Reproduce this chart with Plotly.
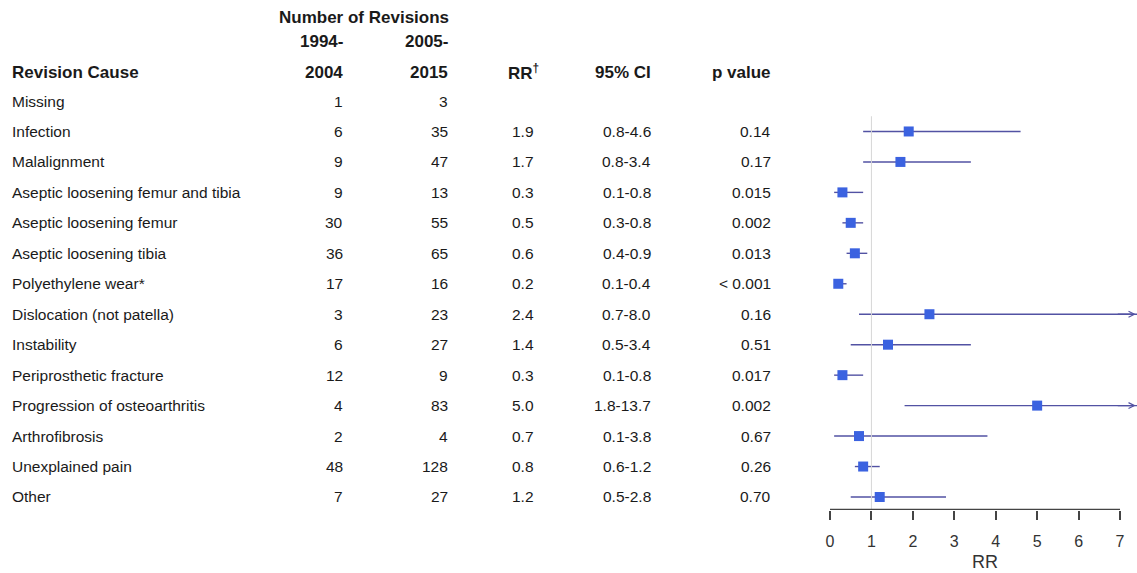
import plotly.graph_objects as go

causes = ["Missing", "Infection", "Malalignment", "Aseptic loosening femur and tibia",
          "Aseptic loosening femur", "Aseptic loosening tibia", "Polyethylene wear*",
          "Dislocation (not patella)", "Instability", "Periprosthetic fracture",
          "Progression of osteoarthritis", "Arthrofibrosis", "Unexplained pain", "Other"]
n_1994_2004 = [1, 6, 9, 9, 30, 36, 17, 3, 6, 12, 4, 2, 48, 7]
n_2005_2015 = [3, 35, 47, 13, 55, 65, 16, 23, 27, 9, 83, 4, 128, 27]
rr = [None, 1.9, 1.7, 0.3, 0.5, 0.6, 0.2, 2.4, 1.4, 0.3, 5.0, 0.7, 0.8, 1.2]
ci_lo = [None, 0.8, 0.8, 0.1, 0.3, 0.4, 0.1, 0.7, 0.5, 0.1, 1.8, 0.1, 0.6, 0.5]
ci_hi = [None, 4.6, 3.4, 0.8, 0.8, 0.9, 0.4, 8.0, 3.4, 0.8, 13.7, 3.8, 1.2, 2.8]
p_values = ["", "0.14", "0.17", "0.015", "0.002", "0.013", "< 0.001", "0.16", "0.51",
            "0.017", "0.002", "0.67", "0.26", "0.70"]
x_ticks = [0, 1, 2, 3, 4, 5, 6, 7]

W, H = 1137, 573
FONT = "Liberation Sans, Arial, sans-serif"
TXT = "#1a1a1a"
LINE_C = "#5252a3"
MARK_C = "#3b62e0"

rows = list(range(len(causes)))
XMIN, XMAX = -0.2414, 7.41
YBOT, YTOP = 13.427, -3.316
PLOT_BOTTOM = 510

def px(x):
    return x / W

fig = go.Figure()

idx = [i for i in rows if rr[i] is not None]
fig.add_trace(go.Scatter(
    x=[rr[i] for i in idx], y=idx, mode="markers",
    marker=dict(symbol="square", size=10, color=MARK_C),
    error_x=dict(type="data", symmetric=False,
                 array=[ci_hi[i] - rr[i] for i in idx],
                 arrayminus=[rr[i] - ci_lo[i] for i in idx],
                 color=LINE_C, thickness=1.4, width=0),
    showlegend=False, hoverinfo="skip"))

ann = []
def t(text, x, y, align="left", bold=False, size=15.5):
    ann.append(dict(text=f"<b>{text}</b>" if bold else text, x=px(x), xref="paper",
                    y=y, yref="y", xanchor=align, yanchor="middle", showarrow=False,
                    font=dict(family=FONT, size=size, color=TXT)))

for i in rows:
    t(causes[i], 10, i)
    t(str(n_1994_2004[i]), 345, i, "right")
    t(str(n_2005_2015[i]), 450, i, "right")
    if rr[i] is not None:
        t(f"{rr[i]:.1f}", 536, i, "right")
        t(f"{ci_lo[i]:.1f}-{ci_hi[i]:.1f}", 653, i, "right")
    t(p_values[i], 773, i, "right")

# headers
HS = 17
t("Number of Revisions", 364, -2.73, "center", True, HS)
t("1994-", 345, -1.94, "right", True, HS)
t("2005-", 450, -1.94, "right", True, HS)
t("Revision Cause", 10, -0.95, "left", True, HS)
t("2004", 345, -0.95, "right", True, HS)
t("2015", 450, -0.95, "right", True, HS)
t("RR<sup>†</sup>", 506, -0.95, "left", True, HS)
t("95% CI", 653, -0.95, "right", True, HS)
t("p value", 773, -0.95, "right", True, HS)

# arrows for CIs beyond the axis
for i in idx:
    if ci_hi[i] > XMAX:
        ann.append(dict(x=XMAX - 0.03, y=i, xref="x", yref="y", ax=XMAX - 0.5, ay=i,
                        axref="x", ayref="y", showarrow=True, arrowhead=5, arrowsize=0.9,
                        arrowwidth=1.3, arrowcolor=LINE_C, text=""))

ann.append(dict(text="RR", x=3.75, xref="x", y=(PLOT_BOTTOM - 562) / PLOT_BOTTOM,
                yref="paper", xanchor="center", yanchor="middle", showarrow=False,
                font=dict(family=FONT, size=18, color="#333333")))

shapes = [
    dict(type="line", xref="x", yref="y", x0=1, x1=1, y0=0.5, y1=YBOT,
         line=dict(color="#d6d6d6", width=1)),
    dict(type="line", xref="x", yref="y", x0=x_ticks[0], x1=x_ticks[-1], y0=YBOT - 0.02,
         y1=YBOT - 0.02, line=dict(color="#444444", width=1.5)),
]

fig.update_layout(
    width=W, height=H, margin=dict(l=0, r=0, t=0, b=H - PLOT_BOTTOM),
    paper_bgcolor="white", plot_bgcolor="white",
    annotations=ann, shapes=shapes,
    xaxis=dict(domain=[820 / W, 1.0], range=[XMIN, XMAX], tickvals=x_ticks,
               ticks="outside", ticklen=9, tickwidth=1.5, tickcolor="#444444",
               showline=False, showgrid=False, zeroline=False,
               tickfont=dict(family=FONT, size=16, color="#333333"),
               ticklabelstandoff=8),
    yaxis=dict(range=[YBOT, YTOP], visible=False, showgrid=False, zeroline=False),
)

fig.write_html("out.html", config={"displayModeBar": False},
               post_script="document.body.style.margin='0';document.body.style.overflow='hidden';")
